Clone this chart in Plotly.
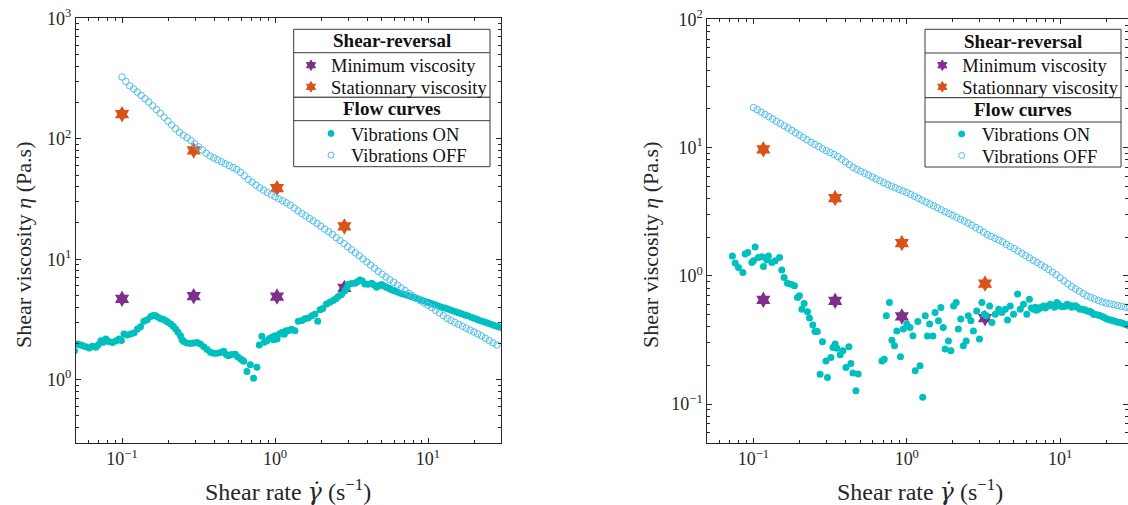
import math
import plotly.graph_objects as go

W, H = 1128, 505

# ---------------- data ----------------
# shear-rate sweep of the "vibrations OFF" flow curves (both panels)
rate_off = [0.1, 0.1059, 0.1122, 0.1189, 0.1259, 0.1334, 0.1413, 0.1496, 0.1585, 0.1679,
            0.1778, 0.1884, 0.1995, 0.2113, 0.2239, 0.2371, 0.2512, 0.2661, 0.2818, 0.2985,
            0.3162, 0.335, 0.3548, 0.3758, 0.3981, 0.4217, 0.4467, 0.4732, 0.5012, 0.5309,
            0.5623, 0.5957, 0.631, 0.6683, 0.7079, 0.7499, 0.7943, 0.8414, 0.8913, 0.9441,
            1.0, 1.059, 1.122, 1.189, 1.259, 1.334, 1.413, 1.496, 1.585, 1.679,
            1.778, 1.884, 1.995, 2.113, 2.239, 2.371, 2.512, 2.661, 2.818, 2.985,
            3.162, 3.35, 3.548, 3.758, 3.981, 4.217, 4.467, 4.732, 5.012, 5.309,
            5.623, 5.957, 6.31, 6.683, 7.079, 7.499, 7.943, 8.414, 8.913, 9.441,
            10.0, 10.59, 11.22, 11.89, 12.59, 13.34, 14.13, 14.96, 15.85, 16.79,
            17.78, 18.84, 19.95, 21.13, 22.39, 23.71, 25.12, 26.61, 28.18]

left_off_eta = [326, 299, 275, 259, 244, 229, 215, 202, 188, 175,
                163, 151, 140, 130, 121, 113, 107, 102, 96.6, 91.0,
                85.7, 80.7, 75.9, 71.9, 69.3, 66.8, 64.4, 62.1, 59.8, 57.7,
                55.6, 52.7, 49.3, 46.0, 43.6, 41.2, 39.2, 37.4, 35.8, 34.4,
                33.0, 31.7, 30.5, 29.4, 28.1, 26.6, 25.2, 24.0, 22.9, 21.8,
                20.8, 19.8, 18.8, 17.8, 16.9, 16.1, 15.1, 14.3, 13.5, 12.7,
                12.0, 11.3, 10.7, 10.05, 9.48, 8.93, 8.43, 7.94, 7.50, 7.13,
                6.76, 6.43, 6.11, 5.79, 5.51, 5.22, 4.97, 4.73, 4.53, 4.34,
                4.15, 3.96, 3.77, 3.58, 3.40, 3.23, 3.10, 2.99, 2.88, 2.78,
                2.68, 2.58, 2.49, 2.40, 2.31, 2.21, 2.11, 2.02, 1.94]

right_off_eta = [20.5, 19.7, 18.9, 18.1, 17.4, 16.7, 16.0, 15.4, 14.8, 14.2,
                 13.6, 13.0, 12.5, 12.0, 11.5, 11.0, 10.6, 10.2, 9.79, 9.46,
                 9.14, 8.83, 8.51, 8.11, 7.73, 7.36, 7.01, 6.76, 6.53, 6.31,
                 6.11, 5.90, 5.70, 5.51, 5.32, 5.15, 5.00, 4.86, 4.72, 4.59,
                 4.46, 4.31, 4.17, 4.03, 3.89, 3.76, 3.63, 3.51, 3.39, 3.27,
                 3.16, 3.06, 2.96, 2.86, 2.76, 2.67, 2.58, 2.48, 2.38, 2.29,
                 2.19, 2.10, 2.03, 1.96, 1.90, 1.84, 1.76, 1.69, 1.63, 1.56,
                 1.50, 1.44, 1.38, 1.32, 1.27, 1.22, 1.17, 1.12, 1.07, 1.02,
                 0.966, 0.914, 0.865, 0.824, 0.791, 0.759, 0.728, 0.698, 0.679, 0.661,
                 0.643, 0.625, 0.614, 0.605, 0.596, 0.587, 0.578, 0.570, 0.562]

left_on_rate = [0.049, 0.051, 0.053, 0.055, 0.058, 0.061, 0.064, 0.0674, 0.070, 0.0727,
                0.0755, 0.0784, 0.082, 0.0865, 0.091, 0.0955, 0.099, 0.103, 0.108, 0.114,
                0.120, 0.126, 0.132, 0.139, 0.146, 0.154, 0.160, 0.166, 0.172, 0.179,
                0.186, 0.193, 0.200, 0.208, 0.216, 0.224, 0.232, 0.241, 0.247, 0.253,
                0.265, 0.280, 0.295, 0.310, 0.325, 0.342, 0.360, 0.378, 0.398, 0.418,
                0.440, 0.462, 0.480, 0.497, 0.520, 0.550, 0.570, 0.593, 0.610, 0.624,
                0.655, 0.689, 0.724, 0.761, 0.789, 0.820, 0.850, 0.885, 0.920, 0.953,
                0.980, 1.000, 1.030, 1.070, 1.107, 1.150, 1.180, 1.220, 1.280, 1.350,
                1.420, 1.500, 1.570, 1.650, 1.740, 1.820, 1.900, 1.970, 2.050, 2.170,
                2.280, 2.400, 2.500, 2.590, 2.720, 2.870, 2.950, 3.010, 3.150, 3.330,
                3.450, 3.590, 3.720, 3.870, 4.050, 4.280, 4.450, 4.610, 4.800, 4.970,
                5.150, 5.350, 5.550, 5.770, 6.050, 6.380, 6.700, 7.050, 7.410, 7.800,
                8.200, 8.610, 9.050, 9.500, 10.00, 10.50, 11.10, 11.70, 12.30, 12.90,
                13.50, 14.20, 15.00, 15.80, 16.60, 17.40, 18.20, 19.20, 20.20, 21.20,
                22.30, 23.40, 24.50, 25.80, 27.10, 28.50, 29.50]
left_on_eta = [1.74, 1.98, 1.95, 1.92, 1.88, 1.83, 1.90, 1.86, 1.95, 2.11,
               2.05, 2.18, 2.08, 2.04, 2.10, 2.18, 2.12, 2.40, 2.35, 2.40,
               2.45, 2.64, 2.75, 3.05, 3.15, 3.34, 3.42, 3.40, 3.30, 3.20,
               3.18, 3.09, 3.00, 2.90, 2.78, 2.64, 2.48, 2.32, 2.15, 2.08,
               2.02, 2.00, 2.02, 2.04, 1.98, 1.88, 1.78, 1.69, 1.66, 1.66,
               1.68, 1.72, 1.62, 1.58, 1.62, 1.63, 1.55, 1.49, 1.46, 1.42,
               1.17, 1.33, 1.03, 1.27, 1.94, 2.29, 2.05, 2.11, 2.20, 2.25,
               2.15, 2.32, 2.18, 2.40, 2.47, 2.38, 2.55, 2.55, 2.62, 2.55,
               3.05, 3.10, 3.20, 3.25, 3.40, 3.50, 3.05, 3.80, 3.90, 4.26,
               4.40, 4.54, 4.70, 4.90, 5.10, 5.50, 5.80, 6.17, 6.30, 6.32,
               6.50, 6.74, 6.60, 6.24, 6.20, 6.32, 6.10, 5.85, 6.05, 6.17,
               6.00, 5.85, 5.75, 5.57, 5.45, 5.32, 5.20, 5.10, 4.99, 4.88,
               4.79, 4.69, 4.58, 4.48, 4.39, 4.30, 4.20, 4.10, 4.00, 3.93,
               3.87, 3.78, 3.68, 3.60, 3.52, 3.45, 3.40, 3.30, 3.22, 3.14,
               3.07, 3.01, 2.96, 2.89, 2.82, 2.76, 2.72]

right_on_rate = [0.0729, 0.0760, 0.0798, 0.0853, 0.0883, 0.0919, 0.0977, 0.1000, 0.1026, 0.1078,
                 0.1135, 0.1162, 0.1222, 0.1253, 0.1318, 0.1386, 0.1480, 0.1530, 0.1585, 0.1667,
                 0.1755, 0.1850, 0.1936, 0.1995, 0.2070, 0.2140, 0.2250, 0.2320, 0.2440, 0.2520,
                 0.2610, 0.2720, 0.2820, 0.2970, 0.3040, 0.3200, 0.3300, 0.3410, 0.3500, 0.3680,
                 0.3830, 0.4010, 0.4190, 0.4320, 0.4450, 0.4660, 0.4820, 0.6890, 0.7130, 0.7350,
                 0.7710, 0.8000, 0.8320, 0.8610, 0.9100, 0.9500, 1.000, 1.050, 1.096, 1.135,
                 1.180, 1.220, 1.270, 1.320, 1.365, 1.410, 1.480, 1.530, 1.610, 1.670,
                 1.730, 1.780, 1.870, 1.940, 2.020, 2.100, 2.170, 2.250, 2.340, 2.440,
                 2.520, 2.620, 2.720, 2.860, 2.980, 3.090, 3.200, 3.300, 3.470, 3.590,
                 3.780, 3.980, 4.170, 4.390, 4.540, 4.730, 4.970, 5.280, 5.500, 5.770,
                 6.070, 6.310, 6.500, 6.710, 6.900, 7.000, 7.230, 7.500, 7.800, 8.000,
                 8.300, 8.610, 8.900, 9.200, 9.530, 9.800, 10.00, 10.40, 10.80, 11.10,
                 11.50, 11.90, 12.20, 12.60, 13.00, 13.50, 14.00, 14.50, 15.00, 15.50,
                 16.00, 16.50, 17.00, 17.60, 18.30, 19.00, 19.60, 20.20, 21.00, 21.60,
                 22.30, 23.00, 23.80, 24.70, 25.50, 26.40, 27.30, 28.00]
right_on_eta = [1.43, 1.26, 1.16, 1.06, 1.48, 1.52, 1.27, 1.31, 1.68, 1.39,
                1.41, 1.18, 1.33, 1.43, 1.27, 1.31, 1.39, 1.11, 0.97, 0.877,
                0.861, 0.835, 0.678, 0.698, 0.550, 0.608, 0.524, 0.468, 0.413, 0.368,
                0.368, 0.171, 0.306, 0.217, 0.161, 0.231, 0.276, 0.294, 0.273, 0.242,
                0.260, 0.193, 0.280, 0.207, 0.175, 0.127, 0.172, 0.217, 0.224, 0.488,
                0.619, 0.315, 0.285, 0.372, 0.234, 0.385, 0.421, 0.396, 0.341, 0.182,
                0.441, 0.199, 0.113, 0.488, 0.340, 0.421, 0.340, 0.518, 0.446, 0.566,
                0.396, 0.269, 0.311, 0.260, 0.583, 0.619, 0.385, 0.460, 0.285, 0.311,
                0.488, 0.446, 0.372, 0.533, 0.321, 0.619, 0.502, 0.488, 0.583, 0.432,
                0.502, 0.550, 0.518, 0.550, 0.452, 0.583, 0.502, 0.720, 0.550, 0.601,
                0.502, 0.658, 0.560, 0.550, 0.570, 0.540, 0.550, 0.570, 0.583, 0.560,
                0.580, 0.601, 0.590, 0.570, 0.619, 0.600, 0.583, 0.575, 0.580, 0.601,
                0.590, 0.570, 0.583, 0.585, 0.570, 0.550, 0.550, 0.545, 0.533, 0.530,
                0.520, 0.502, 0.500, 0.495, 0.488, 0.480, 0.470, 0.460, 0.455, 0.450,
                0.446, 0.440, 0.435, 0.432, 0.427, 0.420, 0.415, 0.410]

# shear-reversal points
left_rev_rate = [0.1, 0.294, 1.03, 2.84]
left_min_eta = [4.69, 4.93, 4.90, 5.78]
left_stat_eta = [160, 80, 38.9, 18.7]
right_rev_rate = [0.116, 0.341, 0.929, 3.24]
right_min_eta = [0.65, 0.638, 0.482, 0.468]
right_stat_eta = [9.7, 4.04, 1.80, 0.871]

x_tickvals = [0.1, 1, 10]
x_ticktext = ["10<sup>−1</sup>", "10<sup>0</sup>", "10<sup>1</sup>"]
left_y_tickvals = [1, 10, 100, 1000]
left_y_ticktext = ["10<sup>0</sup>", "10<sup>1</sup>", "10<sup>2</sup>", "10<sup>3</sup>"]
right_y_tickvals = [0.1, 1, 10, 100]
right_y_ticktext = ["10<sup>−1</sup>", "10<sup>0</sup>", "10<sup>1</sup>", "10<sup>2</sup>"]

names = ["Minimum viscosity", "Stationnary viscosity", "Vibrations ON", "Vibrations OFF"]
group_titles = ["Shear-reversal", "Flow curves"]
x_title = ("Shear rate <span style='font-family:DejaVu Serif'><i>γ̇</i></span> "
           "(s<sup>−1</sup>)")
y_title = "Shear viscosity <i>η</i> (Pa.s)"

# ---------------- style ----------------
PURPLE = "#7E2F8E"
ORANGE = "#D95319"
TEAL = "#00BFBF"
SKY = "#4DBEEE"
AX = "#262626"
FONT = "Liberation Serif"


def px(x):
    return x / W


def py(y):
    return 1 - y / H


fig = go.Figure()
legend_layouts = {}
legend_counter = [0]


def add_panel(xa, ya, rev_x, min_y, stat_y, on_x, on_y, off_y, mx_a, mx_b, item_ys):
    fig.add_trace(go.Scatter(x=rev_x, y=min_y, mode="markers", xaxis=xa, yaxis=ya,
                             marker=dict(symbol="hexagram", size=12.5, color=PURPLE),
                             showlegend=False, hoverinfo="skip"))
    fig.add_trace(go.Scatter(x=rev_x, y=stat_y, mode="markers", xaxis=xa, yaxis=ya,
                             marker=dict(symbol="hexagram", size=12.5, color=ORANGE),
                             showlegend=False, hoverinfo="skip"))
    fig.add_trace(go.Scatter(x=on_x, y=on_y, mode="markers", xaxis=xa, yaxis=ya,
                             marker=dict(symbol="circle", size=7, color=TEAL),
                             showlegend=False, hoverinfo="skip"))
    fig.add_trace(go.Scatter(x=rate_off, y=off_y, mode="markers", xaxis=xa, yaxis=ya,
                             marker=dict(symbol="circle-open", size=6.5, color=SKY,
                                         line=dict(width=1, color=SKY)),
                             showlegend=False, hoverinfo="skip"))
    # legend entries: one small legend per entry, placed like the reference
    specs = [(names[0], "hexagram", PURPLE, 8, mx_a),
             (names[1], "hexagram", ORANGE, 8, mx_a),
             (names[2], "circle", TEAL, 6, mx_b),
             (names[3], "circle-open", SKY, 6, mx_b)]
    for (nm, sym, col, sz, mx), iy in zip(specs, item_ys):
        legend_counter[0] += 1
        key = "legend" if legend_counter[0] == 1 else "legend%d" % legend_counter[0]
        fig.add_trace(go.Scatter(x=[None], y=[None], mode="markers", xaxis=xa, yaxis=ya,
                                 name=nm, legend=key,
                                 marker=dict(symbol=sym, size=sz, color=col,
                                             line=dict(width=1, color=col))))
        legend_layouts[key] = dict(x=px(mx - 21), y=py(iy), xanchor="left", yanchor="middle",
                                   bgcolor="rgba(0,0,0,0)", borderwidth=0,
                                   font=dict(family=FONT, size=18.5, color="#111"),
                                   itemclick=False, itemdoubleclick=False)


add_panel("x", "y", left_rev_rate, left_min_eta, left_stat_eta,
          left_on_rate, left_on_eta, left_off_eta, 312, 332, [65.7, 87.3, 134, 155.5])
add_panel("x2", "y2", right_rev_rate, right_min_eta, right_stat_eta,
          right_on_rate, right_on_eta, right_off_eta, 943.3, 962.7, [65.7, 87.3, 134.5, 156])


def minor_vals(lo, hi):
    vals = []
    for e in range(lo, hi):
        for m in range(2, 10):
            vals.append(m * 10 ** e)
    return vals


def axis(domain, rng, tv, tt, minors, anchor):
    return dict(type="log", domain=domain, range=rng, anchor=anchor,
                showline=True, linecolor=AX, linewidth=1, mirror="allticks",
                ticks="inside", ticklen=5, tickwidth=1, tickcolor=AX,
                tickmode="array", tickvals=tv, ticktext=tt,
                tickfont=dict(family=FONT, size=18, color=AX),
                minor=dict(ticks="inside", ticklen=3, tickwidth=1, tickcolor=AX,
                           tickmode="array", tickvals=minors, showgrid=False),
                showgrid=False, zeroline=False, automargin=False)


lx = [math.log10(0.05), math.log10(30)]
rx = [math.log10(0.05), 1.443]

fig.update_layout(
    width=W, height=H,
    margin=dict(l=0, r=0, t=0, b=0, autoexpand=False),
    paper_bgcolor="white", plot_bgcolor="white",
    font=dict(family=FONT, size=17, color="#111"),
    xaxis=axis([px(76), px(501)], lx, x_tickvals, x_ticktext,
               minor_vals(-2, 2), "y"),
    yaxis=axis([py(442.7), py(18.3)], [math.log10(0.3), 3], left_y_tickvals,
               left_y_ticktext, minor_vals(-1, 3), "x"),
    xaxis2=axis([px(707.3), 1.0], rx, x_tickvals, x_ticktext,
                minor_vals(-2, 2), "y2"),
    yaxis2=axis([py(442.7), py(19.3)], [math.log10(0.05), 2], right_y_tickvals,
                right_y_ticktext, minor_vals(-2, 2), "x2"),
    **legend_layouts,
)

shapes = []
annotations = []
for (x0, x1, y0, ym, y1, y2, yb) in [(293.7, 490, 29.3, 52.7, 97.3, 120.7, 166.7),
                                      (925, 1121, 29.3, 53, 97.7, 122, 167)]:
    shapes += [
        dict(type="rect", xref="paper", yref="paper", x0=px(x0), x1=px(x1), y0=py(y1), y1=py(y0),
             line=dict(color="#3a3a3a", width=1), fillcolor="white", layer="above"),
        dict(type="rect", xref="paper", yref="paper", x0=px(x0), x1=px(x1), y0=py(yb), y1=py(y1),
             line=dict(color="#3a3a3a", width=1), fillcolor="white", layer="above"),
        dict(type="line", xref="paper", yref="paper", x0=px(x0), x1=px(x1), y0=py(ym), y1=py(ym),
             line=dict(color="#3a3a3a", width=1), layer="above"),
        dict(type="line", xref="paper", yref="paper", x0=px(x0), x1=px(x1), y0=py(y2), y1=py(y2),
             line=dict(color="#3a3a3a", width=1), layer="above"),
    ]
    xc = (x0 + x1) / 2
    annotations += [
        dict(text="<b>%s</b>" % group_titles[0], x=px(xc), y=py((y0 + ym) / 2), xref="paper",
             yref="paper", showarrow=False, xanchor="center", yanchor="middle",
             font=dict(family=FONT, size=19, color="#111")),
        dict(text="<b>%s</b>" % group_titles[1], x=px(xc), y=py((y1 + y2) / 2), xref="paper",
             yref="paper", showarrow=False, xanchor="center", yanchor="middle",
             font=dict(family=FONT, size=19, color="#111")),
    ]

for xc_title, xc_ytitle in [(288.5, 23), (920, 650)]:
    annotations += [
        dict(text=x_title, x=px(xc_title), y=py(490), xref="paper", yref="paper",
             showarrow=False, xanchor="center", yanchor="middle",
             font=dict(family=FONT, size=24, color=AX)),
        dict(text=y_title, x=px(xc_ytitle), y=py(245), xref="paper", yref="paper",
             showarrow=False, xanchor="center", yanchor="middle", textangle=-90,
             font=dict(family=FONT, size=22, color=AX)),
    ]

fig.update_layout(shapes=shapes, annotations=annotations)

# page body has a default 8px margin: remove it so the figure fills the window exactly
fig.write_html("out.html", config={"displayModeBar": False},
               post_script="document.body.style.margin='0px';")
